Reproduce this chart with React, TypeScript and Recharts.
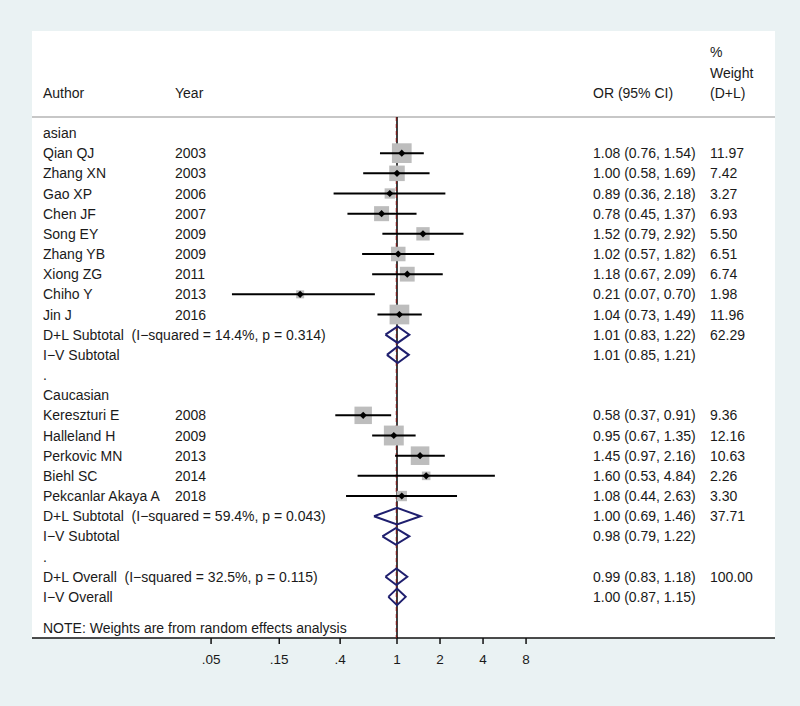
import { ScatterChart, Scatter, XAxis, YAxis, CartesianGrid } from 'recharts';

// row texts, top to bottom (index = row on the y axis)
const rowLabels = [
  'asian', 'Qian QJ', 'Zhang XN', 'Gao XP', 'Chen JF', 'Song EY', 'Zhang YB', 'Xiong ZG', 'Chiho Y', 'Jin J',
  'D+L Subtotal  (I\u2212squared = 14.4%, p = 0.314)', 'I\u2212V Subtotal', '.',
  'Caucasian', 'Kereszturi E', 'Halleland H', 'Perkovic MN', 'Biehl SC', 'Pekcanlar Akaya A',
  'D+L Subtotal  (I\u2212squared = 59.4%, p = 0.043)', 'I\u2212V Subtotal', '.',
  'D+L Overall  (I\u2212squared = 32.5%, p = 0.115)', 'I\u2212V Overall',
];
const rowYears = [
  '', '2003', '2003', '2006', '2007', '2009', '2009', '2011', '2013', '2016', '', '', '',
  '', '2008', '2009', '2013', '2014', '2018', '', '', '', '', '',
];

// individual studies
const studyRows = [1, 2, 3, 4, 5, 6, 7, 8, 9, 14, 15, 16, 17, 18];
const studyOr = [1.08, 1.0, 0.89, 0.78, 1.52, 1.02, 1.18, 0.21, 1.04, 0.58, 0.95, 1.45, 1.6, 1.08];
const studyLo = [0.76, 0.58, 0.36, 0.45, 0.79, 0.57, 0.67, 0.07, 0.73, 0.37, 0.67, 0.97, 0.53, 0.44];
const studyHi = [1.54, 1.69, 2.18, 1.37, 2.92, 1.82, 2.09, 0.7, 1.49, 0.91, 1.35, 2.16, 4.84, 2.63];
const studyWeight = [11.97, 7.42, 3.27, 6.93, 5.5, 6.51, 6.74, 1.98, 11.96, 9.36, 12.16, 10.63, 2.26, 3.3];

// pooled estimates
const pooledRows = [10, 11, 19, 20, 22, 23];
const pooledOr = [1.01, 1.01, 1.0, 0.98, 0.99, 1.0];
const pooledLo = [0.83, 0.85, 0.69, 0.79, 0.83, 0.87];
const pooledHi = [1.22, 1.21, 1.46, 1.22, 1.18, 1.15];
const pooledWeight = ['62.29', '', '37.71', '', '100.00', ''];

const overallOr = 0.99;
const xTicks = [0.05, 0.15, 0.4, 1, 2, 4, 8];

const X_MIN = 0.002792;
const X_MAX = 441.6;
const Y_MIN = -5.057;
const Y_MAX = 25.04;
const HEADER_LINE = -0.79;
const NOTE_ROW = 24.54;

const FONT = '"Liberation Sans", Arial, Helvetica, sans-serif';
const TEXT = '#1a1a1a';
const NAVY = '#1f1f6e';

const COL_AUTHOR = 43;
const COL_YEAR = 175;
const COL_OR = 593;
const COL_WEIGHT = 710;

const fmtCi = (or: number, lo: number, hi: number) =>
  `${or.toFixed(2)} (${lo.toFixed(2)}, ${hi.toFixed(2)})`;

const orText: string[] = rowLabels.map(() => '');
const weightText: string[] = rowLabels.map(() => '');
studyRows.forEach((r, i) => {
  orText[r] = fmtCi(studyOr[i], studyLo[i], studyHi[i]);
  weightText[r] = studyWeight[i].toFixed(2);
});
pooledRows.forEach((r, i) => {
  orText[r] = fmtCi(pooledOr[i], pooledLo[i], pooledHi[i]);
  weightText[r] = pooledWeight[i];
});

const yTicks = [-4, -3, -2, ...rowLabels.map((_, i) => i), NOTE_ROW];

function Txt({ x, y, children }: { x: number; y: number; children: string }) {
  if (!children) return null;
  return (
    <text x={x} y={y} dy="0.36em" fontSize={14} fontFamily={FONT} fill={TEXT} style={{ whiteSpace: 'pre' }}>
      {children}
    </text>
  );
}

function RowTick({ y, payload }: { y?: number; payload?: { value: number } }) {
  const v = payload?.value ?? 0;
  const yy = y ?? 0;
  if (v === -4) return <Txt x={COL_WEIGHT} y={yy}>%</Txt>;
  if (v === -3) return <Txt x={COL_WEIGHT} y={yy}>Weight</Txt>;
  if (v === -2) {
    return (
      <g>
        <Txt x={COL_AUTHOR} y={yy}>Author</Txt>
        <Txt x={COL_YEAR} y={yy}>Year</Txt>
        <Txt x={COL_OR} y={yy}>OR (95% CI)</Txt>
        <Txt x={COL_WEIGHT} y={yy}>(D+L)</Txt>
      </g>
    );
  }
  if (v === NOTE_ROW) return <Txt x={COL_AUTHOR} y={yy}>NOTE: Weights are from random effects analysis</Txt>;
  return (
    <g>
      <Txt x={COL_AUTHOR} y={yy}>{rowLabels[v]}</Txt>
      <Txt x={COL_YEAR} y={yy}>{rowYears[v]}</Txt>
      <Txt x={COL_OR} y={yy}>{orText[v]}</Txt>
      <Txt x={COL_WEIGHT} y={yy}>{weightText[v]}</Txt>
    </g>
  );
}

const noDot = () => <g />;

function WeightBox(props: { cx?: number; cy?: number; payload?: { w: number } }) {
  const { cx = 0, cy = 0, payload } = props;
  const s = 5.7 * Math.sqrt(payload?.w ?? 0);
  return <rect x={cx - s / 2} y={cy - s / 2} width={s} height={s} fill="#bdbdbd" />;
}

function PointDot(props: { cx?: number; cy?: number }) {
  const { cx = 0, cy = 0 } = props;
  const d = 3.6;
  return <polygon points={`${cx - d},${cy} ${cx},${cy - d} ${cx + d},${cy} ${cx},${cy + d}`} fill="#000" />;
}

const boxData = studyRows.map((r, i) => ({ x: studyOr[i], y: r, w: studyWeight[i] }));
const dotData = studyRows.map((r, i) => ({ x: studyOr[i], y: r }));

export default function App() {
  return (
    <div style={{ position: 'absolute', left: 0, top: 0, width: 800, height: 706, background: '#eaf2f3' }}>
      <ScatterChart width={800} height={706} margin={{ top: 31, right: 25, bottom: 38, left: 0 }}>
        <CartesianGrid fill="#ffffff" stroke="none" />
        <XAxis
          type="number"
          dataKey="x"
          scale="log"
          domain={[X_MIN, X_MAX]}
          allowDataOverflow
          ticks={xTicks}
          interval={0}
          height={30}
          tickSize={6}
          tickMargin={10}
          tickFormatter={(v: number) => (v < 1 ? String(v).replace(/^0/, '') : String(v))}
          tick={{ fontSize: 13.5, fill: TEXT, fontFamily: FONT }}
          axisLine={{ stroke: '#111', strokeWidth: 1.5 }}
          tickLine={{ stroke: '#111', strokeWidth: 1.5 }}
        />
        <YAxis
          type="number"
          dataKey="y"
          domain={[Y_MIN, Y_MAX]}
          reversed
          allowDataOverflow
          ticks={yTicks}
          interval={0}
          width={32}
          axisLine={false}
          tickLine={false}
          tick={(p: any) => <RowTick key={`t${p.payload?.value}`} y={p.y} payload={p.payload} />}
        />

        {/* header rule */}
        <Scatter
          data={[{ x: X_MIN, y: HEADER_LINE }, { x: X_MAX, y: HEADER_LINE }]}
          line={{ stroke: '#b5b5b5', strokeWidth: 1.5 }}
          shape={noDot}
          isAnimationActive={false}
        />
        {/* null line and overall effect line */}
        <Scatter
          data={[{ x: 1, y: HEADER_LINE }, { x: 1, y: Y_MAX }]}
          line={{ stroke: '#000', strokeWidth: 1.5 }}
          shape={noDot}
          isAnimationActive={false}
        />
        <Scatter
          data={[{ x: overallOr, y: HEADER_LINE }, { x: overallOr, y: Y_MAX }]}
          line={{ stroke: '#7a1c1c', strokeWidth: 1.2, strokeDasharray: '4 3' }}
          shape={noDot}
          isAnimationActive={false}
        />

        <Scatter data={boxData} shape={WeightBox} isAnimationActive={false} />

        {studyRows.map((r, i) => (
          <Scatter
            key={`ci${r}`}
            data={[{ x: studyLo[i], y: r }, { x: studyHi[i], y: r }]}
            line={{ stroke: '#000', strokeWidth: 2 }}
            shape={noDot}
            isAnimationActive={false}
          />
        ))}

        <Scatter data={dotData} shape={PointDot} isAnimationActive={false} />

        {pooledRows.map((r, i) => (
          <Scatter
            key={`pd${r}`}
            data={[
              { x: pooledLo[i], y: r },
              { x: pooledOr[i], y: r - 0.41 },
              { x: pooledHi[i], y: r },
              { x: pooledOr[i], y: r + 0.41 },
              { x: pooledLo[i], y: r },
            ]}
            line={{ stroke: NAVY, strokeWidth: 2, strokeLinejoin: 'miter' }}
            shape={noDot}
            isAnimationActive={false}
          />
        ))}
      </ScatterChart>
    </div>
  );
}
